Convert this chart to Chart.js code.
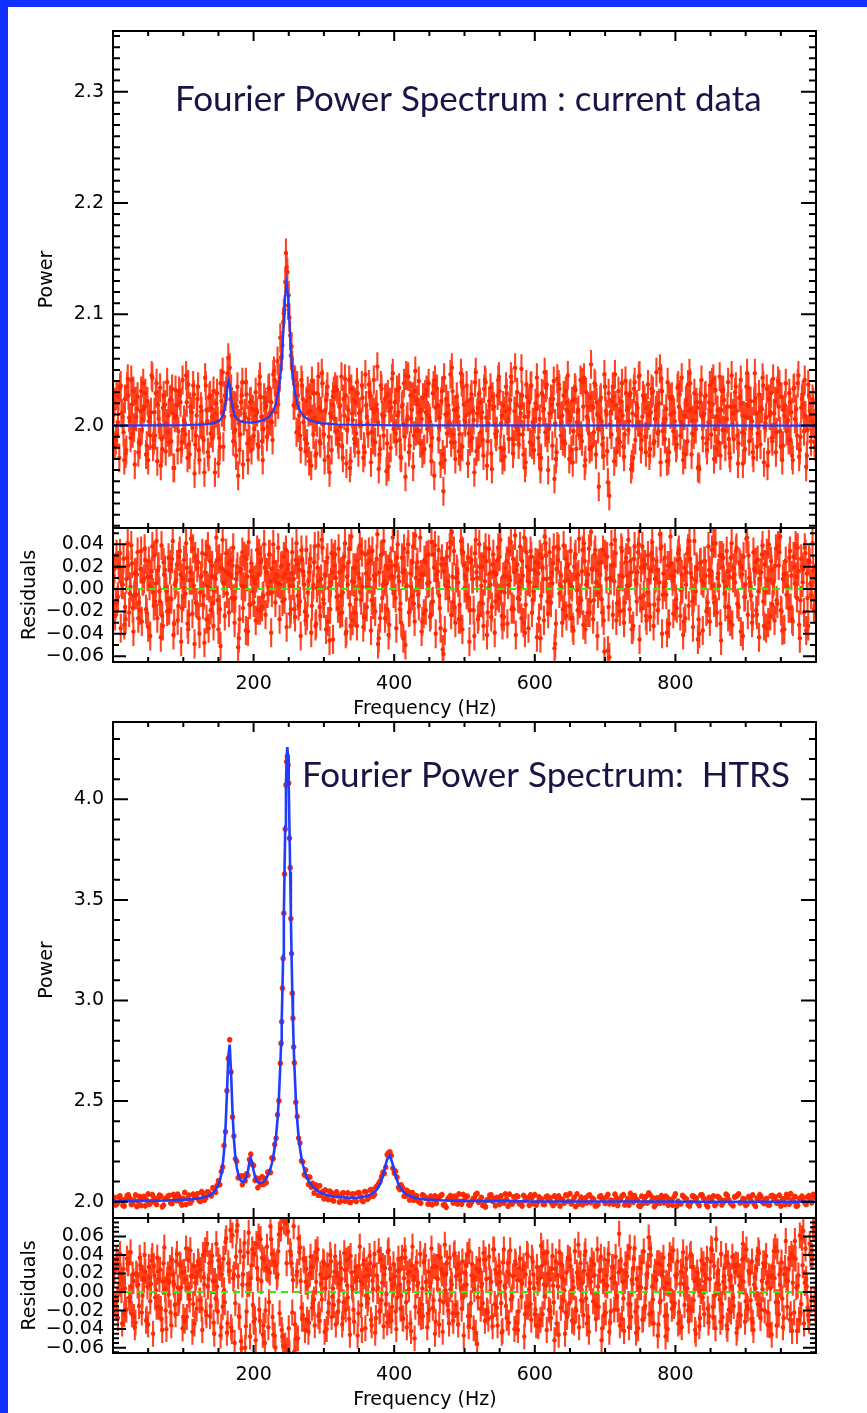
<!DOCTYPE html>
<html>
<head>
<meta charset="utf-8">
<script src="https://cdn.jsdelivr.net/npm/chart.js@4.4.1/dist/chart.umd.min.js"></script>
<style>
  body { margin: 0; background: #fff; }
  #page { position: relative; width: 867px; height: 1413px; overflow: hidden; background: #fff; }
  .edge-top { position: absolute; left: 0; top: 0; width: 867px; height: 7px; background: #1131ff; }
  .edge-left { position: absolute; left: 0; top: 0; width: 8px; height: 1413px; background: #1131ff; }
  canvas { position: absolute; left: 0; }
</style>
</head>
<body>
<div id="page">
  <div class="edge-top"></div>
  <div class="edge-left"></div>
  <canvas id="curPow" width="867" height="540" style="top:0px"></canvas>
  <canvas id="curRes" width="867" height="206" style="top:516px"></canvas>
  <canvas id="htrsPow" width="867" height="520" style="top:710px"></canvas>
  <canvas id="htrsRes" width="867" height="207" style="top:1206px"></canvas>
</div>
<script>
// frequency axis
const freqMin = 0, freqMax = 1000;

// frequency bins of the noisy series (Hz): three interleaved grids
const freqs = [
  2,6,10,14,18,22,26,30,34,38,42,46,50,54,58,62,66,70,74,78,82,86,90,94,98,
  102,106,110,114,118,122,126,130,134,138,142,146,150,154,158,162,166,170,174,178,182,186,190,194,198,
  202,206,210,214,218,222,226,230,234,238,242,246,250,254,258,262,266,270,274,278,282,286,290,294,298,
  302,306,310,314,318,322,326,330,334,338,342,346,350,354,358,362,366,370,374,378,382,386,390,394,398,
  402,406,410,414,418,422,426,430,434,438,442,446,450,454,458,462,466,470,474,478,482,486,490,494,498,
  502,506,510,514,518,522,526,530,534,538,542,546,550,554,558,562,566,570,574,578,582,586,590,594,598,
  602,606,610,614,618,622,626,630,634,638,642,646,650,654,658,662,666,670,674,678,682,686,690,694,698,
  702,706,710,714,718,722,726,730,734,738,742,746,750,754,758,762,766,770,774,778,782,786,790,794,798,
  802,806,810,814,818,822,826,830,834,838,842,846,850,854,858,862,866,870,874,878,882,886,890,894,898,
  902,906,910,914,918,922,926,930,934,938,942,946,950,954,958,962,966,970,974,978,982,986,990,994,998
];
const freqsMid = [
  4,8,12,16,20,24,28,32,36,40,44,48,52,56,60,64,68,72,76,80,84,88,92,96,100,
  104,108,112,116,120,124,128,132,136,140,144,148,152,156,160,164,168,172,176,180,184,188,192,196,200,
  204,208,212,216,220,224,228,232,236,240,244,248,252,256,260,264,268,272,276,280,284,288,292,296,300,
  304,308,312,316,320,324,328,332,336,340,344,348,352,356,360,364,368,372,376,380,384,388,392,396,400,
  404,408,412,416,420,424,428,432,436,440,444,448,452,456,460,464,468,472,476,480,484,488,492,496,500,
  504,508,512,516,520,524,528,532,536,540,544,548,552,556,560,564,568,572,576,580,584,588,592,596,600,
  604,608,612,616,620,624,628,632,636,640,644,648,652,656,660,664,668,672,676,680,684,688,692,696,700,
  704,708,712,716,720,724,728,732,736,740,744,748,752,756,760,764,768,772,776,780,784,788,792,796,800,
  804,808,812,816,820,824,828,832,836,840,844,848,852,856,860,864,868,872,876,880,884,888,892,896,900,
  904,908,912,916,920,924,928,932,936,940,944,948,952,956,960,964,968,972,976,980,984,988,992,996
];
const freqsOdd = [
  1,3,5,7,9,11,13,15,17,19,21,23,25,27,29,31,33,35,37,39,41,43,45,47,49,
  51,53,55,57,59,61,63,65,67,69,71,73,75,77,79,81,83,85,87,89,91,93,95,97,99,
  101,103,105,107,109,111,113,115,117,119,121,123,125,127,129,131,133,135,137,139,141,143,145,147,149,
  151,153,155,157,159,161,163,165,167,169,171,173,175,177,179,181,183,185,187,189,191,193,195,197,199,
  201,203,205,207,209,211,213,215,217,219,221,223,225,227,229,231,233,235,237,239,241,243,245,247,249,
  251,253,255,257,259,261,263,265,267,269,271,273,275,277,279,281,283,285,287,289,291,293,295,297,299,
  301,303,305,307,309,311,313,315,317,319,321,323,325,327,329,331,333,335,337,339,341,343,345,347,349,
  351,353,355,357,359,361,363,365,367,369,371,373,375,377,379,381,383,385,387,389,391,393,395,397,399,
  401,403,405,407,409,411,413,415,417,419,421,423,425,427,429,431,433,435,437,439,441,443,445,447,449,
  451,453,455,457,459,461,463,465,467,469,471,473,475,477,479,481,483,485,487,489,491,493,495,497,499,
  501,503,505,507,509,511,513,515,517,519,521,523,525,527,529,531,533,535,537,539,541,543,545,547,549,
  551,553,555,557,559,561,563,565,567,569,571,573,575,577,579,581,583,585,587,589,591,593,595,597,599,
  601,603,605,607,609,611,613,615,617,619,621,623,625,627,629,631,633,635,637,639,641,643,645,647,649,
  651,653,655,657,659,661,663,665,667,669,671,673,675,677,679,681,683,685,687,689,691,693,695,697,699,
  701,703,705,707,709,711,713,715,717,719,721,723,725,727,729,731,733,735,737,739,741,743,745,747,749,
  751,753,755,757,759,761,763,765,767,769,771,773,775,777,779,781,783,785,787,789,791,793,795,797,799,
  801,803,805,807,809,811,813,815,817,819,821,823,825,827,829,831,833,835,837,839,841,843,845,847,849,
  851,853,855,857,859,861,863,865,867,869,871,873,875,877,879,881,883,885,887,889,891,893,895,897,899,
  901,903,905,907,909,911,913,915,917,919,921,923,925,927,929,931,933,935,937,939,941,943,945,947,949,
  951,953,955,957,959,961,963,965,967,969,971,973,975,977,979,981,983,985,987,989,991,993,995,997,999
];

// --- current data: power spectrum ---
const currentPower = [
  2.021,1.992,2.034,2.008,1.975,2.027,2.041,1.998,2.015,1.983,
  2.006,2.029,1.969,2.012,1.987,2.038,2.001,1.979,2.019,1.994,
  2.024,1.962,2.009,2.031,1.985,2.002,1.971,2.017,2.036,1.991,
  1.978,2.013,1.958,2.004,2.027,1.989,2.011,1.966,2.022,2.008,
  2.035,2.052,2.018,1.996,1.955,2.021,2.004,2.028,1.988,2.015,
  2.009,1.983,2.026,1.997,2.018,2.034,2.003,2.041,2.058,2.079,
  2.093,2.155,2.117,2.071,2.019,2.036,1.991,2.024,1.977,2.012,
  1.964,2.029,2.003,1.986,2.038,2.014,1.972,2.008,2.031,1.995,
  2.017,1.981,2.042,2.006,1.968,2.023,1.993,2.011,2.036,1.976,
  2.002,2.027,1.987,2.015,1.961,2.033,2.009,1.984,2.021,2.047,
  1.993,2.012,1.971,2.038,2.005,1.982,2.026,2.049,1.996,2.014,
  1.978,2.032,2.007,1.989,2.041,2.018,1.966,1.941,2.024,2.003,
  2.052,1.985,2.016,1.972,2.034,2.009,1.993,2.028,1.958,2.011,
  2.021,1.987,2.039,2.002,1.975,2.017,1.995,2.031,1.969,2.013,
  2.006,2.044,1.983,2.019,1.992,2.027,1.962,2.008,2.035,1.999,
  2.015,1.974,2.029,2.048,1.989,2.011,2.024,1.970,2.037,2.003,
  1.986,2.021,2.005,1.967,2.032,2.014,1.991,2.043,2.008,1.979,
  2.018,2.036,1.997,2.025,1.973,2.010,1.937,2.022,2.046,1.988,
  2.013,1.981,2.029,2.004,1.965,2.039,2.016,1.992,2.027,1.976,
  2.009,2.033,1.986,2.018,2.051,1.995,2.006,1.969,2.024,2.012,
  1.983,2.028,2.001,1.974,2.037,2.015,1.992,2.021,1.961,2.008,
  2.026,1.988,2.013,2.042,1.979,2.004,2.031,1.996,2.017,1.971,
  2.011,2.035,1.984,2.020,1.993,2.047,2.007,1.976,2.025,1.998,
  2.016,1.967,2.033,2.009,1.986,2.022,2.040,1.981,2.014,1.995,
  2.029,1.973,2.006,2.038,1.990,2.019,1.963,2.027,2.004,1.985
];
const currentPowerMid = [
  1.987,2.026,2.011,1.969,2.035,2.004,1.993,2.022,1.976,2.031,
  2.015,1.982,2.008,2.043,1.991,2.019,1.964,2.027,2.002,1.985,
  2.033,2.007,1.978,2.021,1.996,2.045,1.983,2.012,1.957,2.024,
  2.001,1.989,2.036,1.972,2.016,2.003,2.029,1.981,2.048,2.026,
  2.061,2.033,1.994,2.017,1.978,2.039,2.008,1.969,2.022,1.991,
  2.014,2.037,1.986,2.021,1.999,2.012,2.046,2.027,2.034,2.062,
  2.104,2.138,2.081,2.049,2.027,1.998,2.041,2.009,1.984,2.025,
  2.006,1.973,2.044,2.013,1.992,2.028,1.958,2.019,2.035,1.988,
  1.999,2.024,1.966,2.041,2.011,1.984,2.029,2.003,1.971,2.018,
  2.037,1.994,2.012,2.053,1.979,2.008,2.025,1.963,2.016,2.001,
  2.032,1.987,2.019,1.954,2.044,2.006,1.991,2.023,2.012,1.975,
  2.028,2.009,1.982,2.036,2.017,1.998,2.031,1.969,2.011,2.046,
  1.992,2.014,1.977,2.039,2.005,2.022,1.986,2.013,2.048,1.981,
  2.007,2.033,1.964,2.018,2.026,1.993,2.041,2.002,1.979,2.029,
  2.015,1.988,2.052,1.996,2.011,1.974,2.037,2.021,1.983,2.006,
  2.027,1.961,2.013,2.034,1.997,2.019,1.952,2.042,2.008,1.986,
  2.031,2.012,1.978,2.024,2.003,1.991,2.039,1.969,2.017,2.055,
  1.994,2.021,2.007,1.983,2.035,1.949,2.012,2.026,1.976,2.004,
  2.038,1.992,2.016,2.029,1.971,2.009,2.044,1.987,2.023,2.001,
  1.979,2.031,2.014,1.995,2.042,2.006,1.968,2.025,2.011,1.989,
  2.036,2.003,1.975,2.019,2.047,1.993,2.012,1.962,2.028,2.009,
  1.984,2.021,2.039,1.997,2.014,1.973,2.032,2.006,1.988,2.045,
  2.017,1.991,2.026,1.966,2.008,2.034,1.998,2.022,1.981,2.013,
  2.043,2.002,1.976,2.029,2.011,1.994,2.037,1.969,2.018,2.005,
  1.987,2.033,2.015,1.972,2.024,2.041,1.996,2.009,2.021
];
const currentPowerOdd = [
  2.015,1.982,2.027,2.003,1.971,2.036,2.011,1.994,2.024,1.978,2.042,2.007,1.989,2.019,2.031,1.965,2.008,2.026,1.985,2.013,
  1.996,2.038,2.017,1.974,2.022,2.004,1.991,2.045,1.981,2.012,2.029,1.968,2.006,2.034,1.988,2.016,2.001,1.977,2.039,2.009,
  2.023,1.986,2.011,1.962,2.032,2.018,1.995,2.027,1.979,2.041,2.005,1.992,2.021,2.037,1.974,2.013,1.998,2.028,1.983,2.009,
  2.035,1.969,2.017,2.002,1.987,2.043,2.014,1.976,2.025,1.993,2.008,2.031,1.958,2.020,2.004,1.989,2.038,2.012,1.981,2.027,
  2.031,2.047,2.052,2.024,2.009,1.986,2.018,1.973,2.035,2.002,1.992,2.027,1.965,2.011,2.039,1.984,2.006,2.021,1.978,2.014,
  1.997,2.030,2.012,1.981,2.044,2.008,1.969,2.025,2.016,1.990,2.033,2.004,2.021,1.987,2.049,2.012,2.028,2.019,2.043,2.061,
  2.072,2.101,2.129,2.142,2.108,2.097,2.063,2.054,2.018,2.041,1.994,2.027,2.009,1.979,2.036,2.003,1.988,2.022,2.031,1.968,
  2.013,2.040,1.992,2.007,1.975,2.029,2.016,1.984,2.047,2.001,1.969,2.023,2.035,1.990,2.011,1.978,2.026,2.006,1.995,2.032,
  1.983,2.018,2.044,1.971,2.009,2.027,1.996,2.014,1.962,2.033,2.005,1.988,2.021,2.039,1.976,2.012,2.000,2.025,1.981,2.046,
  2.008,1.993,2.030,1.967,2.015,2.041,1.985,2.019,2.003,1.974,2.036,2.010,1.991,2.024,1.959,2.028,2.013,1.980,2.042,1.997,
  2.021,1.986,2.009,2.034,1.972,2.017,2.002,1.990,2.045,2.008,1.976,2.027,2.014,1.963,2.031,1.995,2.019,2.040,1.984,2.006,
  2.025,1.979,2.012,1.997,2.038,2.004,1.968,2.029,1.955,2.016,2.033,1.988,2.007,2.022,1.974,2.043,2.010,1.993,2.018,2.002,
  1.985,2.031,2.014,1.970,2.026,2.008,1.992,2.047,1.981,2.019,2.003,2.036,1.966,2.011,2.024,1.989,2.005,2.039,1.977,2.016,
  2.029,1.994,2.012,1.973,2.041,2.007,1.986,2.022,2.034,1.961,2.015,2.001,1.990,2.027,2.044,1.980,2.009,2.018,1.972,2.035,
  2.004,1.988,2.023,2.039,1.975,2.013,1.999,2.030,1.983,2.017,2.051,1.992,2.008,1.967,2.026,2.012,1.985,2.036,2.003,1.978,
  2.020,2.043,1.989,2.006,1.971,2.028,2.015,1.994,2.037,1.960,2.011,2.024,1.982,2.040,2.002,1.976,2.019,2.033,1.991,2.009,
  2.027,1.984,2.014,2.045,1.970,2.008,2.022,1.995,2.034,1.979,2.012,2.000,2.041,1.986,2.017,1.964,2.030,2.007,1.993,2.025,
  1.981,2.016,2.038,1.974,2.010,1.945,2.023,2.004,1.989,2.046,2.013,1.977,2.029,2.001,1.992,2.035,1.968,2.018,2.007,2.031,
  1.985,2.022,2.009,1.972,2.040,2.014,1.996,2.027,1.961,2.011,2.033,1.987,2.019,2.003,2.045,1.979,2.008,2.024,1.990,2.016,
  2.037,1.973,2.012,2.029,1.984,2.006,2.048,1.993,2.020,1.967,2.031,2.002,1.988,2.015,2.039,1.976,2.010,2.026,1.995,2.004,
  1.980,2.034,2.017,1.991,2.043,1.969,2.009,2.023,1.986,2.013,2.038,1.974,2.005,2.029,1.997,2.016,1.963,2.021,2.041,1.989,
  2.011,2.027,1.978,2.003,2.036,1.992,2.019,1.970,2.032,2.008,1.985,2.044,2.014,1.996,2.023,1.981,2.006,2.039,1.975,2.017,
  2.002,1.988,2.030,2.013,1.966,2.025,2.041,1.994,2.009,1.979,2.035,2.018,1.986,2.022,2.004,1.971,2.047,2.011,1.993,2.028,
  1.983,2.015,2.036,1.998,2.007,1.964,2.024,2.012,1.989,2.042,2.001,1.976,2.031,2.017,1.995,2.026,1.982,2.009,2.038,2.003,
  1.987,2.021,2.012,1.969,2.034,2.006,1.991,2.045,1.978,2.016,2.028,1.995,2.009,1.973,2.037,2.013,1.986,2.024,2.002,1.981
];
const currentResid = [
  0.018,-0.011,0.032,0.004,-0.027,0.021,0.039,-0.006,0.013,-0.019,
  0.007,0.026,-0.034,0.011,-0.015,0.043,-0.002,-0.024,0.017,-0.009,
  0.022,-0.041,0.008,0.029,-0.017,0.001,-0.031,0.015,0.036,-0.012,
  -0.026,0.012,-0.048,0.003,0.025,-0.013,0.009,-0.036,0.019,0.006,
  -0.004,0.014,0.021,-0.008,-0.052,0.018,0.002,0.027,-0.014,0.011,
  0.005,-0.019,0.024,-0.006,0.015,0.031,-0.003,0.009,0.012,0.004,
  0.011,0.035,0.009,0.014,-0.018,0.022,-0.011,0.016,-0.028,0.007,
  -0.039,0.024,0.001,-0.016,0.037,0.012,-0.029,0.006,0.028,-0.007,
  0.015,-0.021,0.041,0.004,-0.033,0.019,-0.009,0.010,0.033,-0.025,
  0.002,0.026,-0.014,0.013,-0.044,0.031,0.007,-0.018,0.020,0.046,
  -0.008,0.011,-0.030,0.036,0.003,-0.020,0.024,0.048,-0.005,0.013,
  -0.022,0.030,0.006,-0.012,0.039,0.016,-0.035,-0.058,0.022,0.001,
  0.051,-0.016,0.014,-0.027,0.033,0.008,-0.008,0.026,-0.042,0.010,
  0.020,-0.013,0.037,0.001,-0.025,0.015,-0.006,0.029,-0.032,0.012,
  0.004,0.042,-0.018,0.017,-0.009,0.025,-0.039,0.007,0.034,-0.002,
  0.014,-0.026,0.028,0.047,-0.011,0.010,0.023,-0.031,0.036,0.002,
  -0.015,0.020,0.004,-0.034,0.031,0.013,-0.010,0.041,0.007,-0.021,
  0.017,0.035,-0.004,0.024,-0.028,0.009,-0.061,0.021,0.044,-0.012,
  0.012,-0.019,0.028,0.003,-0.036,0.038,0.015,-0.008,0.026,-0.024,
  0.008,0.032,-0.014,0.017,0.049,-0.005,0.005,-0.031,0.023,0.011,
  -0.017,0.027,0.000,-0.026,0.036,0.014,-0.008,0.020,-0.040,0.007,
  0.025,-0.012,0.012,0.041,-0.021,0.003,0.030,-0.004,0.016,-0.029,
  0.010,0.034,-0.016,0.019,-0.007,0.046,0.006,-0.024,0.024,-0.002,
  0.015,-0.033,0.032,0.008,-0.014,0.021,0.039,-0.019,0.013,-0.005,
  0.028,-0.027,0.005,0.037,-0.010,0.018,-0.037,0.026,0.003,-0.015
];
const currentResidMid = [
  -0.013,0.021,0.006,-0.032,0.028,-0.004,-0.017,0.015,-0.026,0.034,
  0.009,-0.021,0.003,0.038,-0.011,0.017,-0.043,0.024,-0.002,-0.019,
  0.027,0.004,-0.028,0.013,-0.007,0.041,-0.023,0.008,-0.049,0.019,
  -0.003,-0.014,0.031,-0.035,0.011,-0.001,0.026,-0.018,0.044,0.016,
  0.023,0.012,-0.009,0.014,-0.027,0.033,0.002,-0.038,0.016,-0.012,
  0.010,0.032,-0.016,0.019,-0.004,0.007,0.040,0.013,0.005,0.021,
  -0.009,0.018,-0.022,0.003,0.026,-0.015,0.035,0.004,-0.024,0.020,
  0.001,-0.033,0.039,0.009,-0.013,0.024,-0.046,0.015,0.031,-0.017,
  -0.006,0.020,-0.038,0.036,0.007,-0.021,0.025,-0.003,-0.034,0.014,
  0.033,-0.010,0.008,0.049,-0.026,0.004,0.021,-0.041,0.012,-0.001,
  0.028,-0.018,0.015,-0.050,0.040,0.002,-0.013,0.019,0.008,-0.029,
  0.024,0.005,-0.023,0.031,0.013,-0.006,0.027,-0.037,0.007,0.042,
  -0.012,0.010,-0.027,0.035,0.001,0.018,-0.019,0.009,0.044,-0.024,
  0.003,0.029,-0.041,0.014,0.022,-0.011,0.037,-0.002,-0.025,0.025,
  0.011,-0.016,0.048,-0.008,0.007,-0.030,0.033,0.017,-0.021,0.002,
  0.023,-0.044,0.009,0.030,-0.007,0.015,-0.053,0.038,0.004,-0.018,
  0.027,0.008,-0.026,0.020,-0.001,-0.013,0.035,-0.036,0.013,0.051,
  -0.010,0.017,0.003,-0.021,0.031,-0.055,0.008,0.022,-0.028,0.000,
  0.034,-0.012,0.012,0.025,-0.033,0.005,0.040,-0.017,0.019,-0.003,
  -0.025,0.027,0.010,-0.009,0.038,0.002,-0.039,0.021,0.007,-0.015,
  0.032,-0.001,-0.029,0.015,0.043,-0.011,0.008,-0.045,0.024,0.005,
  -0.020,0.017,0.035,-0.007,0.010,-0.031,0.028,0.002,-0.016,0.041,
  0.013,-0.013,0.022,-0.042,0.004,0.030,-0.006,0.018,-0.023,0.009,
  0.039,-0.002,-0.030,0.025,0.007,-0.010,0.033,-0.037,0.014,0.001,
  -0.017,0.029,0.011,-0.032,0.020,0.037,-0.008,0.005,0.017
];
const currentResidOdd = [
  .012,-.024,.031,-.007,.019,-.035,.004,.027,-.016,.009,.041,-.021,.002,.023,-.038,.014,-.005,.033,-.012,.018,
  -.029,.007,.036,-.018,.011,.025,-.042,.016,-.003,.030,.005,-.026,.020,-.011,.039,-.033,.013,.001,-.020,.028,
  .017,-.009,.043,-.031,.006,.022,-.015,.034,-.047,.010,.026,-.004,.019,-.036,.008,.045,-.022,.003,.029,-.013,
  .024,-.040,.011,.032,-.006,.015,-.027,.038,.001,-.019,.021,-.033,.012,.046,-.010,.027,-.051,.018,.005,-.024,
  .032,.014,-.021,.025,-.008,.037,-.030,.009,.020,-.044,.016,.003,-.017,.029,-.037,.011,.042,-.014,.023,-.002,
  .008,-.028,.035,.013,-.019,.026,-.007,.040,-.023,.015,.001,.031,-.039,.018,.024,-.012,.006,.037,-.027,.020,
  -.011,.029,.014,-.034,.022,.003,-.018,.033,.009,-.025,.041,-.006,.017,-.042,.026,.012,-.020,.035,-.003,.015,
  .027,-.015,.004,.038,-.031,.019,.007,-.024,.044,-.009,.013,-.036,.028,.001,-.018,.032,-.045,.021,.010,-.007,
  .036,-.022,.016,-.003,.029,-.040,.011,.024,-.014,.047,-.028,.006,.019,-.033,.014,.039,-.010,.002,-.025,.031,
  -.016,.023,.009,-.037,.034,.012,-.020,.027,-.049,.015,.030,-.008,.043,-.026,.005,.018,-.032,.025,.011,-.004,
  .021,-.035,.040,.007,-.013,.028,-.044,.017,.002,.033,-.021,.014,-.006,.038,-.029,.010,.024,-.015,.046,-.038,
  .013,.026,-.019,.005,.031,-.025,.042,-.011,.019,-.040,.008,.035,-.017,.022,-.054,.016,.003,.029,-.008,.037,
  -.023,.011,.034,-.030,.018,.006,-.014,.043,-.036,.021,.012,-.005,.028,-.047,.024,.009,-.019,.032,.015,-.027,
  .040,-.012,.020,-.033,.007,.025,-.021,.036,.004,-.016,.031,-.039,.013,.026,-.008,.044,-.024,.011,-.003,.019,
  -.031,.034,.008,-.018,.027,.015,-.041,.022,.001,.038,-.026,.012,.046,-.014,.020,-.035,.006,.029,-.010,.017,
  .024,-.043,.014,.031,-.006,.019,-.028,.041,.009,-.022,.033,-.012,.005,.037,-.049,.018,.026,-.004,.012,-.030,
  .039,.007,-.024,.022,-.015,.034,.002,-.037,.028,.011,-.019,.045,-.008,.016,-.032,.025,.004,-.021,.036,-.011,
  .018,-.027,.031,.006,-.042,.023,.013,-.009,.035,-.056,.020,.029,-.016,.010,.040,-.023,.007,.032,-.013,.001,
  -.020,.037,.011,-.030,.024,.003,.044,-.018,.015,-.036,.027,.008,-.011,.033,-.045,.019,.038,-.006,.022,-.028,
  .030,-.014,.017,.042,-.033,.009,.025,-.019,.006,.036,-.040,.014,.028,-.005,.021,-.031,.047,.012,-.022,.016,
  -.009,.026,.035,-.024,.013,-.041,.019,.004,.032,-.015,.027,.010,-.034,.043,-.002,.018,-.027,.023,.008,-.037,
  .025,.012,-.018,.038,-.029,.016,.003,-.012,.041,-.021,.014,.030,-.046,.020,.007,-.016,.034,-.025,.011,.028,
  -.032,.019,.006,.037,-.014,.024,-.038,.013,.029,-.007,.045,-.023,.010,.002,-.030,.033,.016,-.019,.026,-.043,
  .015,.031,-.011,.022,-.035,.008,.040,-.024,.017,.005,-.028,.036,-.013,.021,.047,-.020,.009,-.036,.025,.003,
  -.017,.034,.012,-.029,.020,.039,-.008,.016,-.044,.027,.006,-.021,.032,.014,-.033,.024,-.005,.041,-.018,.010
];
const currentErr = 0.013;
// fitted model (blue)
const currentFitFreqs = [
  0,100,130,145,152,156,158,160,162,163.5,164.5,166,168,170,173,177,185,195,205,215,
  222,228,232,236,239,241,243,245,247,249,251,253,255,258,262,266,272,280,295,320,400,1000
];
const currentFit = [
  2.000,2.0004,2.001,2.0024,2.0048,2.0088,2.0129,2.0198,2.0306,2.0387,2.0407,2.0365,2.0249,2.017,2.0091,2.0053,2.0031,2.0027,2.0034,2.0052,
  2.0081,2.0133,2.0199,2.0326,2.050,2.0684,2.0922,2.1168,2.128,2.1168,2.0922,2.0684,2.050,2.0324,2.0197,2.0131,2.0079,2.0046,2.0022,2.001,2.0002,2.000
];

// --- HTRS: power spectrum (finer bins across the peaks) ---
const htrsFreqs = [
  2,6,10,14,18,22,26,30,34,38,42,46,50,54,58,62,66,70,74,78,82,86,90,94,98,102,106,110,114,118,122,126,130,134,138,142,146,150,
  152,154,156,158,160,162,164,166,168,170,172,174,176,178,180,182,184,186,188,190,192,194,196,198,200,202,204,206,208,210,212,214,216,218,220,222,224,226,228,230,232,234,236,238,
  239,240,241,242,243,244,245,246,247,248,249,250,251,252,253,254,255,256,257,
  258,260,262,264,266,268,270,272,274,276,278,280,282,284,286,288,290,292,294,296,298,300,
  302,306,310,314,318,322,326,330,334,338,342,346,350,354,358,362,366,370,374,378,
  382,386,390,394,398,402,406,410,414,418,422,426,430,434,438,442,446,450,454,458,
  462,466,470,474,478,482,486,490,494,498,502,506,510,514,518,522,526,530,534,538,
  542,546,550,554,558,562,566,570,574,578,582,586,590,594,598,602,606,610,614,618,
  622,626,630,634,638,642,646,650,654,658,662,666,670,674,678,682,686,690,694,698,
  702,706,710,714,718,722,726,730,734,738,742,746,750,754,758,762,766,770,774,778,
  782,786,790,794,798,802,806,810,814,818,822,826,830,834,838,842,846,850,854,858,
  862,866,870,874,878,882,886,890,894,898,902,906,910,914,918,922,926,930,934,938,
  942,946,950,954,958,962,966,970,974,978,982,986,990,994,998
];
const htrsFit = [
  2.003,2.003,2.003,2.003,2.003,2.003,2.003,2.003,2.004,2.004,2.004,2.004,2.004,2.005,2.005,2.005,2.005,2.006,2.006,2.007,2.007,2.007,2.008,2.009,2.009,
  2.010,2.011,2.012,2.013,2.015,2.017,2.020,2.023,2.027,2.033,2.043,2.058,2.085,
  2.106,2.136,2.181,2.252,2.364,2.533,2.724,2.781,2.636,2.447,2.310,2.224,2.171,2.138,2.117,2.105,2.100,2.100,2.108,2.125,2.155,2.194,
  2.215,2.194,2.155,2.124,2.106,2.097,2.093,2.092,2.095,2.100,2.107,2.117,2.129,2.145,2.165,2.191,2.225,2.269,2.328,2.408,2.519,2.677,
  2.779,2.902,3.049,3.222,3.421,3.640,3.864,4.065,4.207,4.259,4.207,4.064,3.863,3.639,3.420,3.221,3.048,2.901,2.777,
  2.675,2.517,2.405,2.324,2.265,2.220,2.186,2.159,2.137,2.120,2.105,2.094,2.084,2.076,2.069,2.062,2.057,2.052,2.048,2.045,2.041,2.039,
  2.036,2.032,2.029,2.026,2.024,2.023,2.022,2.021,2.020,2.020,2.020,2.020,2.021,2.023,2.026,2.029,2.035,2.043,2.055,2.075,
  2.108,2.157,2.212,2.228,2.185,2.129,2.088,2.062,2.046,2.035,2.028,2.023,2.019,2.016,2.014,2.012,2.011,2.010,2.009,2.008,
  2.008,2.007,2.006,2.006,2.006,2.005,2.005,2.005,2.004,2.004,2.004,2.004,2.004,2.004,2.004,2.003,2.003,2.003,2.003,2.003,
  2.003,2.003,2.003,2.003,2.003,2.003,2.003,2.002,2.002,2.002,2.002,2.002,2.002,2.001,2.001,2.001,2.001,2.001,2.001,2.001,
  2.001,2.001,2.001,2.001,2.001,2.001,2.001,2.001,2.001,2.001,2.001,2.001,2.001,2.001,2.001,2.001,2.001,2.001,2.001,2.001,
  2.001,2.001,2.001,2.001,2.001,2.001,2.001,2.001,2.001,2.001,2.001,2.001,2.001,2.001,2.001,2.001,2.001,2.001,2.001,2.001,
  2.001,2.001,2.001,2.001,2.001,2.000,2.000,2.000,2.000,2.000,2.000,2.000,2.000,2.000,2.000,2.000,2.000,2.000,2.000,2.000,
  2.000,2.000,2.000,2.000,2.000,2.000,2.000,2.000,2.000,2.000,2.000,2.000,2.000,2.000,2.000,2.000,2.000,2.000,2.000,2.000,
  2.000,2.000,2.000,2.000,2.000,2.000,2.000,2.000,2.000,2.000,2.000,2.000,2.000,2.000,2.000
];
const htrsPower = [
  2.021,1.991,2.029,1.982,2.012,2.034,1.986,2.007,1.976,2.026,2.015,1.980,2.038,1.999,2.020,1.986,2.032,1.975,2.014,2.027,
  1.993,2.036,2.006,2.025,1.984,2.046,2.016,1.994,2.037,2.027,2.008,2.050,2.007,2.048,2.036,2.069,2.047,2.104,
  2.085,2.150,2.173,2.279,2.348,2.552,2.712,2.805,2.645,2.421,2.327,2.213,2.201,2.119,2.123,2.127,2.085,2.128,2.104,2.138,
  2.131,2.210,2.236,2.185,2.180,2.106,2.117,2.070,2.113,2.086,2.124,2.086,2.115,2.095,2.147,2.148,2.145,2.217,2.215,2.284,
  2.315,2.432,2.502,2.688,
  2.788,2.894,3.061,3.209,3.434,3.628,3.851,4.071,4.187,4.214,4.170,4.080,3.806,3.660,3.407,3.233,3.036,2.912,2.769,
  2.691,2.494,2.424,2.316,2.292,2.203,2.198,2.134,2.158,2.124,2.086,2.122,2.073,2.091,2.043,2.084,2.064,2.032,2.079,2.032,2.050,2.015,
  2.058,2.011,2.047,2.004,2.049,1.998,2.041,2.003,2.044,1.996,
  2.038,2.001,2.045,2.006,2.050,2.012,2.059,2.027,2.072,2.091,
  2.125,2.140,2.233,2.247,2.166,2.151,2.071,2.083,2.027,2.056,
  2.009,2.045,2.031,2.003,1.993,2.031,2.018,1.990,1.985,2.029,
  2.017,2.030,1.984,1.972,2.022,2.013,2.027,1.989,2.001,2.036,
  2.026,1.985,1.997,2.019,2.041,2.008,1.981,1.974,2.010,2.033,
  2.015,2.021,1.987,2.003,2.038,1.978,1.996,2.024,2.029,1.990,
  1.979,2.006,2.020,2.034,1.991,1.983,2.023,2.012,1.986,2.027,
  2.019,1.981,1.994,2.028,2.013,1.993,2.031,2.040,2.004,1.976,
  1.988,2.022,2.009,1.995,2.033,2.017,1.979,1.987,2.029,2.011,
  2.024,1.990,2.005,2.037,1.981,2.014,2.035,1.998,1.983,2.016,
  2.030,2.008,1.978,1.991,2.026,2.043,2.002,1.976,2.019,1.993,
  2.011,2.027,1.983,2.006,2.024,1.979,1.992,2.031,2.015,1.985,
  1.996,2.027,2.018,1.981,2.034,2.009,1.975,2.002,2.028,1.990,
  2.021,1.984,2.006,2.030,1.995,1.980,2.026,2.038,1.997,2.012,
  1.987,2.019,2.033,1.978,2.008,2.025,1.991,2.016,1.984,2.031,
  2.023,1.999,1.979,2.014,2.036,1.988,2.007,2.026,1.981,2.010,
  2.018,1.986,2.030,1.995,2.022
];
// extra HTRS bins away from the peaks
const htrsMidFreqs = [
  4,8,12,16,20,24,28,32,36,40,44,48,52,56,60,64,68,72,76,80,84,88,92,96,100,104,108,112,116,120,124,128,132,136,140,144,148,
  304,308,312,316,320,324,328,332,336,340,344,348,352,356,360,364,368,372,376,380,
  384,388,392,396,400,404,408,412,416,420,424,428,432,436,440,444,448,452,456,460,
  464,468,472,476,480,484,488,492,496,500,504,508,512,516,520,524,528,532,536,540,
  544,548,552,556,560,564,568,572,576,580,584,588,592,596,600,604,608,612,616,620,
  624,628,632,636,640,644,648,652,656,660,664,668,672,676,680,684,688,692,696,700,
  704,708,712,716,720,724,728,732,736,740,744,748,752,756,760,764,768,772,776,780,
  784,788,792,796,800,804,808,812,816,820,824,828,832,836,840,844,848,852,856,860,
  864,868,872,876,880,884,888,892,896,900,904,908,912,916,920,924,928,932,936,940,
  944,948,952,956,960,964,968,972,976,980,984,988,992,996
];
const htrsPowerMid = [
  1.984,2.024,2.011,1.979,2.030,2.017,1.990,2.033,2.002,1.981,
  2.026,2.008,1.987,2.035,1.996,2.019,2.028,1.983,2.012,2.031,
  1.991,2.020,2.037,1.998,2.015,1.986,2.032,2.005,2.027,2.039,
  2.001,2.040,2.019,2.047,2.029,2.062,2.081,
  2.019,2.052,2.009,2.041,2.030,2.003,2.044,2.016,1.998,2.037,
  2.008,2.043,2.027,2.001,2.049,2.021,2.060,2.036,2.079,2.103,
  2.146,2.171,2.244,2.229,2.143,2.122,2.061,2.069,2.027,2.048,
  2.041,2.007,2.029,1.996,2.034,2.019,1.989,2.027,2.014,1.992,
  2.024,2.035,1.985,2.012,2.030,1.994,2.016,2.038,1.988,2.009,
  2.027,1.983,2.015,2.036,1.997,2.021,1.986,2.009,2.032,2.002,
  1.980,2.018,2.029,1.993,2.012,2.037,1.989,2.004,2.026,1.995,
  2.031,2.010,1.982,2.020,2.035,1.998,2.013,1.987,2.024,2.006,
  1.993,2.028,2.015,1.979,2.009,2.033,2.002,1.990,2.021,2.039,
  2.004,1.985,2.018,2.030,1.996,2.011,1.981,2.025,2.014,1.992,
  2.036,2.007,1.988,2.020,2.003,2.029,1.984,2.016,2.041,1.997,
  2.012,1.980,2.027,2.005,1.993,2.034,2.019,1.986,2.008,2.030,
  1.995,2.022,2.011,1.983,2.038,2.002,1.990,2.025,2.013,1.979,
  2.028,2.006,1.992,2.033,2.017,1.985,2.021,2.004,1.981,2.026,
  2.013,1.996,2.037,2.009,1.987,2.023,2.031,1.994,2.015,1.982,
  2.025,2.003,1.989,2.018,2.035,1.997,2.010,1.984,2.029,2.007,
  1.993,2.032,2.014,1.986,2.021,2.040,2.001,1.978,2.016,2.027,
  1.995,2.024,2.008,2.036
];
const htrsResid = [
  0.024,-0.008,0.041,0.013,-0.019,0.031,0.006,-0.027,0.018,0.037,
  -0.004,0.022,-0.035,0.009,0.028,-0.016,0.014,-0.041,0.003,0.019,
  -0.022,0.011,0.033,-0.009,0.021,-0.031,0.005,0.045,-0.013,0.016,
  0.029,-0.018,0.008,0.052,-0.026,0.012,-0.007,0.034,-0.038,0.002,
  -0.044,0.023,0.061,-0.012,0.017,-0.053,0.038,-0.021,0.009,0.046,
  -0.029,0.014,0.057,-0.036,0.026,-0.011,0.041,-0.047,0.019,0.068,
  -0.058,0.074,-0.039,0.031,-0.064,0.022,0.048,-0.025,0.011,-0.043,
  0.027,-0.008,0.036,-0.031,0.015,0.004,-0.022,0.033,-0.014,0.021,
  0.009,-0.035,0.024,-0.006,0.039,-0.019,0.012,0.028,-0.041,0.017,
  -0.012,0.031,0.003,-0.028,0.044,-0.009,0.019,-0.033,0.025,0.007,
  -0.021,0.036,-0.004,0.015,-0.038,0.022,0.049,-0.016,0.010,-0.027,
  0.032,0.001,-0.019,0.026,-0.045,0.014,0.037,-0.011,0.020,-0.034,
  0.008,0.042,-0.023,0.013,-0.006,0.029,-0.037,0.018,0.003,-0.056,
  0.024,-0.012,0.035,-0.029,0.011,0.046,-0.017,0.021,-0.042,0.005,
  0.031,-0.008,0.017,-0.033,0.026,0.009,-0.024,0.039,-0.013,0.019,
  -0.036,0.014,0.028,-0.005,0.043,-0.021,0.007,0.033,-0.046,0.016,
  0.002,-0.027,0.035,0.012,-0.018,0.051,-0.009,0.023,-0.034,0.015,
  0.029,-0.014,0.006,0.038,-0.025,0.018,-0.043,0.027,0.010,-0.019,
  0.034,-0.007,0.021,-0.038,0.013,0.047,-0.016,0.025,-0.029,0.004,
  0.059,-0.022,0.016,0.031,-0.011,0.022,-0.048,0.009,0.036,-0.015,
  0.019,-0.032,0.028,0.005,-0.020,0.041,-0.009,0.015,-0.037,0.024,
  0.011,-0.018,0.033,-0.027,0.057,0.008,-0.013,0.026,-0.040,0.017,
  -0.006,0.030,-0.024,0.012,0.038,-0.015,0.021,-0.033,0.004,0.045,
  -0.019,0.027,0.010,-0.036,0.018,0.049,-0.011,0.024,-0.028,0.013,
  0.036,-0.042,0.055,0.007,-0.022,0.066,0.014,-0.031,0.039,-0.008
];
const htrsResidMid = [
  -0.015,0.030,0.002,-0.024,0.036,-0.010,0.019,-0.033,0.008,0.025,
  0.013,-0.029,0.016,0.039,-0.006,0.022,-0.018,0.031,-0.040,0.010,
  0.035,-0.014,0.005,0.028,-0.027,0.047,-0.003,0.018,-0.034,0.021,
  -0.009,0.040,-0.021,0.014,0.033,-0.045,0.006,0.026,-0.016,0.054,
  0.031,-0.038,0.019,0.066,-0.027,0.008,-0.060,0.043,0.015,-0.032,
  0.052,-0.019,0.037,-0.055,0.024,0.071,-0.046,0.029,0.062,-0.041,
  0.078,-0.063,0.044,0.013,-0.050,0.058,-0.017,0.034,-0.030,0.020,
  -0.012,0.043,-0.026,0.009,0.031,-0.040,0.017,-0.005,0.038,-0.021,
  0.026,-0.011,0.034,-0.029,0.006,0.022,-0.047,0.012,0.030,-0.004,
  0.018,-0.036,0.041,0.001,-0.020,0.028,-0.013,0.045,-0.031,0.009,
  -0.006,0.024,-0.028,0.037,0.011,-0.042,0.016,0.032,-0.019,0.004,
  0.039,-0.023,0.010,-0.009,0.027,-0.035,0.020,0.051,-0.014,0.003,
  -0.031,0.017,0.030,-0.018,0.008,0.040,-0.026,0.013,-0.044,0.022,
  0.006,0.035,-0.020,0.015,-0.037,0.024,0.009,-0.012,0.046,-0.028,
  0.019,-0.005,0.033,-0.041,0.012,0.028,-0.016,0.003,0.037,-0.024,
  0.010,-0.030,0.042,0.007,-0.019,0.025,-0.052,0.018,0.031,-0.008,
  -0.022,0.036,0.002,-0.033,0.021,0.014,-0.010,0.044,-0.027,0.011,
  0.030,-0.015,0.023,-0.039,0.008,0.034,-0.021,0.016,-0.006,0.063,
  -0.029,0.012,0.038,-0.013,0.026,-0.044,0.005,0.032,-0.018,0.020,
  0.047,-0.008,0.015,-0.035,0.029,0.004,-0.025,0.040,-0.011,0.018,
  -0.034,0.022,0.009,0.036,-0.016,0.027,-0.041,0.013,0.001,0.030,
  0.015,-0.026,0.045,-0.004,0.020,-0.032,0.011,0.039,-0.019,0.006,
  0.028,-0.039,0.017,0.052,-0.010,0.023,-0.029,0.008,0.035,-0.014,
  0.003,0.031,-0.022,0.016,0.044,-0.036,0.019,-0.007,0.026,0.012,
  -0.024,0.037,0.005,-0.030,0.058,0.010,-0.017,0.041,0.069
];
const htrsResidOdd = [
  .021,-.013,.036,-.028,.009,.017,-.034,.025,.004,-.019,.031,-.006,.043,-.024,.012,-.038,.020,.007,-.015,.029,
  -.022,.015,.040,-.031,.006,.027,-.010,.034,-.045,.018,.002,.037,-.016,.024,-.029,.011,.048,-.020,.013,-.003,
  .026,-.036,.019,.008,-.024,.041,-.012,.030,.005,-.039,.022,.014,-.027,.035,-.008,.017,-.043,.028,.010,-.018,
  .033,-.009,.024,-.041,.016,.045,-.025,.006,.031,-.015,.039,-.033,.012,.052,-.021,.027,-.047,.019,.036,-.011,
  .058,-.034,.023,.067,-.042,.015,-.055,.038,.072,-.026,.044,-.061,.019,.053,-.037,.008,.064,-.048,.029,-.014,
  .041,-.052,.026,.060,-.031,.012,-.046,.035,-.020,.049,-.038,.021,.057,-.027,.033,-.060,.016,.044,-.023,.069,
  -.048,.076,-.058,.031,.065,-.066,.040,-.022,.071,-.035,.018,-.050,.043,.012,-.029,.036,-.041,.025,.006,-.033,
  .038,-.017,.027,-.036,.011,.046,-.024,.019,-.008,.033,-.043,.015,.029,-.012,.040,-.027,.004,.022,-.035,.017,
  -.010,.031,.014,-.028,.042,-.019,.007,.036,-.046,.021,.003,-.032,.027,.016,-.023,.049,-.014,.009,.034,-.039,
  .024,-.007,.039,-.030,.012,.028,-.044,.018,.005,-.021,.035,.010,-.037,.026,-.002,.043,-.025,.014,-.016,.030,
  .017,-.040,.023,.008,-.018,.037,-.029,.045,-.011,.020,.003,-.034,.029,.013,-.050,.025,.007,-.022,.041,-.013,
  -.026,.034,.011,-.038,.022,.006,.047,-.017,.028,-.032,.015,.039,-.009,.024,-.043,.018,.002,.031,-.020,.037,
  .012,-.023,.040,-.014,.026,-.035,.019,.004,.033,-.047,.021,.008,-.026,.044,-.012,.030,-.039,.016,.025,-.006,
  .035,-.018,.009,.042,-.031,.014,-.022,.038,.001,-.027,.046,-.013,.020,-.036,.028,.011,-.044,.032,.007,-.015,
  .022,-.033,.045,-.008,.017,-.040,.030,.013,-.021,.036,-.005,.024,-.048,.019,.041,-.016,.010,-.030,.033,.004,
  -.019,.027,-.037,.015,.050,-.024,.008,.032,-.041,.020,.014,-.028,.039,-.011,.025,-.034,.006,.043,-.017,.029,
  .013,-.045,.021,.037,-.012,.028,-.031,.005,.044,-.020,.016,-.038,.031,.009,-.025,.040,-.007,.019,-.043,.024,
  .034,-.010,.018,-.029,.046,-.016,.023,-.052,.012,.035,-.022,.007,.041,-.033,.015,.027,-.019,.038,-.004,.021,
  -.036,.024,.011,-.042,.030,.017,-.013,.048,-.027,.009,.036,-.021,.014,-.039,.026,.005,-.030,.044,-.015,.019,
  .028,-.024,.040,.006,-.034,.022,.013,-.047,.031,-.009,.018,.037,-.026,.010,-.040,.029,.002,-.018,.045,-.012,
  .016,.033,-.022,.009,-.038,.043,-.014,.025,.004,-.031,.039,-.019,.027,.012,-.045,.021,.008,-.028,.034,-.006,
  -.024,.019,.036,-.033,.014,.047,-.016,.028,-.039,.010,.023,-.008,.041,-.027,.017,.005,-.036,.031,.013,-.021,
  .038,-.015,.022,-.044,.029,.007,-.025,.035,.011,-.032,.046,-.018,.020,-.009,.033,-.041,.016,.026,-.013,.042,
  -.028,.012,.031,-.020,.039,-.035,.017,.004,-.046,.027,.015,-.011,.044,-.024,.008,.032,-.038,.019,.055,-.016,
  .025,-.030,.041,.010,-.022,.036,-.042,.018,.061,-.013,.029,-.034,.047,.006,-.025,.052,-.009,.038,.070,-.019
];
const htrsErr = 0.014;

const RED = '#ff2a00';
const BLUE = '#1f3dff';
const GREEN = '#33ee00';
const tickFont = { family: "'DejaVu Sans', sans-serif", size: 19 };

const pts = (xs, ys) => xs.map((x, i) => ({ x: x, y: ys[i] }));
const near = (v, step) => Math.abs(v / step - Math.round(v / step)) < 1e-6;

// vertical error bars, drawn under the points
const errorBars = {
  id: 'errorBars',
  beforeDatasetsDraw(chart) {
    const { ctx, chartArea: a, scales: { x, y } } = chart;
    ctx.save();
    ctx.beginPath();
    ctx.rect(a.left, a.top, a.width, a.height);
    ctx.clip();
    ctx.strokeStyle = 'rgba(255,46,8,0.9)';
    chart.data.datasets.forEach(ds => {
      if (!ds.err) return;
      ctx.lineWidth = ds.errWidth || 2;
      ctx.beginPath();
      ds.data.forEach(p => {
        const px = x.getPixelForValue(p.x);
        ctx.moveTo(px, y.getPixelForValue(p.y - ds.err));
        ctx.lineTo(px, y.getPixelForValue(p.y + ds.err));
      });
      ctx.stroke();
    });
    ctx.restore();
  }
};

// IDL style box with inward ticks on all four sides
function frame(o) {
  return {
    id: 'frame',
    afterDraw(chart) {
      const { ctx, chartArea: a, scales: { x, y } } = chart;
      ctx.save();
      ctx.strokeStyle = '#000';
      ctx.lineWidth = 2;
      ctx.beginPath();
      x.ticks.forEach(t => {
        const len = near(t.value, o.xMajor) ? o.xMajorLen : o.xMinorLen;
        const px = x.getPixelForValue(t.value);
        ctx.moveTo(px, a.bottom); ctx.lineTo(px, a.bottom - len);
        ctx.moveTo(px, a.top); ctx.lineTo(px, a.top + len);
      });
      y.ticks.forEach(t => {
        const len = near(t.value, o.yMajor) ? o.yMajorLen : o.yMinorLen;
        const py = y.getPixelForValue(t.value);
        ctx.moveTo(a.left, py); ctx.lineTo(a.left + len, py);
        ctx.moveTo(a.right, py); ctx.lineTo(a.right - len, py);
      });
      ctx.stroke();
      ctx.strokeRect(a.left, a.top, a.width, a.height);
      ctx.restore();
    }
  };
}

// free text placed relative to the plot box
function captions(items) {
  return {
    id: 'captions',
    afterDraw(chart) {
      const { ctx, chartArea: a } = chart;
      items.forEach(c => {
        ctx.save();
        ctx.font = c.font;
        ctx.fillStyle = c.color;
        ctx.textAlign = c.align;
        ctx.textBaseline = c.baseline;
        ctx.fillText(c.text, a.left + c.dx, a.top + c.dy);
        ctx.restore();
      });
    }
  };
}

function xScale(showLabels, height) {
  return {
    type: 'linear', min: freqMin, max: freqMax,
    afterFit: s => { s.height = height; s.paddingLeft = 0; s.paddingRight = 0; },
    grid: { display: false, drawTicks: false },
    border: { display: false },
    ticks: {
      display: showLabels, stepSize: 50, includeBounds: false, autoSkip: false,
      maxRotation: 0, minRotation: 0, padding: 11, color: '#000', font: tickFont,
      callback: v => (near(v, 200) && v > freqMin && v < freqMax) ? String(v) : ''
    }
  };
}

function yScale(min, max, minor, major, digits, title, titlePad) {
  return {
    type: 'linear', min: min, max: max,
    afterFit: s => { s.width = 113; s.paddingTop = 0; s.paddingBottom = 0; },
    grid: { display: false, drawTicks: false },
    border: { display: false },
    ticks: {
      stepSize: minor, includeBounds: false, autoSkip: false, padding: 9,
      color: '#000', font: tickFont,
      callback: v => near(v, major) ? (v < -1e-9 ? '\u2212' : '') + Math.abs(v).toFixed(digits) : ''
    },
    title: { display: true, text: title, color: '#000', font: tickFont, padding: { top: titlePad, bottom: 0 } }
  };
}

function panel(id, datasets, xs, ys, frameOpts, textItems, pad) {
  return new Chart(document.getElementById(id), {
    type: 'scatter',
    data: { datasets: datasets },
    plugins: [errorBars, frame(frameOpts), captions(textItems)],
    options: {
      responsive: false,
      animation: false,
      devicePixelRatio: 1,
      layout: { padding: { left: 0, right: 51, top: pad.top, bottom: pad.bottom } },
      plugins: { legend: { display: false }, tooltip: { enabled: false } },
      scales: { x: xs, y: ys }
    }
  });
}

const fitLine = (xs, ys, w) => ({ data: pts(xs, ys), showLine: true, borderColor: BLUE, borderWidth: w, pointRadius: 0 });
const dataPoints = (xs, ys, err, r, w) => ({
  data: pts(xs, ys), err: err, errWidth: w, showLine: false,
  pointRadius: r, pointBackgroundColor: RED, pointBorderWidth: 0
});
const zeroLine = () => ({
  data: [{ x: freqMin, y: 0 }, { x: freqMax, y: 0 }], showLine: true,
  borderColor: GREEN, borderWidth: 2, borderDash: [7, 5], pointRadius: 0
});

const titleFont = "35px Lato, 'Open Sans', sans-serif";
const TITLE_COLOR = '#1b1246';
const xTitle = (dy) => ({ text: 'Frequency (Hz)', font: "19px 'DejaVu Sans', sans-serif", color: '#000', align: 'center', baseline: 'middle', dx: 312, dy: dy });

const allFreqs = freqs.concat(freqsMid, freqsOdd);

// top: current data
panel('curPow',
  [fitLine(currentFitFreqs, currentFit, 2.2),
   dataPoints(allFreqs, currentPower.concat(currentPowerMid, currentPowerOdd), currentErr, 2.2, 2.1)],
  xScale(false, 0),
  yScale(1.908, 2.3545, 0.01, 0.1, 1, 'Power', 36),
  { xMajor: 200, xMajorLen: 10, xMinorLen: 5, yMajor: 0.1, yMajorLen: 15, yMinorLen: 7 },
  [{ text: 'Fourier Power Spectrum : current data', font: titleFont, color: TITLE_COLOR, align: 'left', baseline: 'alphabetic', dx: 62, dy: 80 }],
  { top: 31, bottom: 12 });

panel('curRes',
  [zeroLine(),
   dataPoints(allFreqs, currentResid.concat(currentResidMid, currentResidOdd), currentErr, 2.2, 2.1)],
  xScale(true, 60),
  yScale(-0.0652, 0.0546, 0.01, 0.02, 2, 'Residuals', 19),
  { xMajor: 200, xMajorLen: 8, xMinorLen: 5, yMajor: 0.02, yMajorLen: 13, yMinorLen: 6 },
  [xTitle(181)],
  { top: 12, bottom: 0 });

// bottom: HTRS
panel('htrsPow',
  [fitLine(htrsFreqs, htrsFit, 2.6),
   dataPoints(htrsFreqs.concat(htrsMidFreqs), htrsPower.concat(htrsPowerMid), htrsErr, 2.7, 2.4)],
  xScale(false, 0),
  yScale(1.919, 4.384, 0.1, 0.5, 1, 'Power', 36),
  { xMajor: 200, xMajorLen: 10, xMinorLen: 5, yMajor: 0.5, yMajorLen: 15, yMinorLen: 7 },
  [{ text: 'Fourier Power Spectrum:  HTRS', font: titleFont, color: TITLE_COLOR, align: 'left', baseline: 'alphabetic', dx: 189, dy: 65 }],
  { top: 12, bottom: 12 });

panel('htrsRes',
  [zeroLine(),
   dataPoints(allFreqs, htrsResid.concat(htrsResidMid, htrsResidOdd), htrsErr, 2.2, 2.1)],
  xScale(true, 60),
  yScale(-0.0658, 0.0799, 0.005, 0.02, 2, 'Residuals', 19),
  { xMajor: 200, xMajorLen: 8, xMinorLen: 5, yMajor: 0.02, yMajorLen: 13, yMinorLen: 6 },
  [xTitle(182)],
  { top: 12, bottom: 0 });
</script>
</body>
</html>
